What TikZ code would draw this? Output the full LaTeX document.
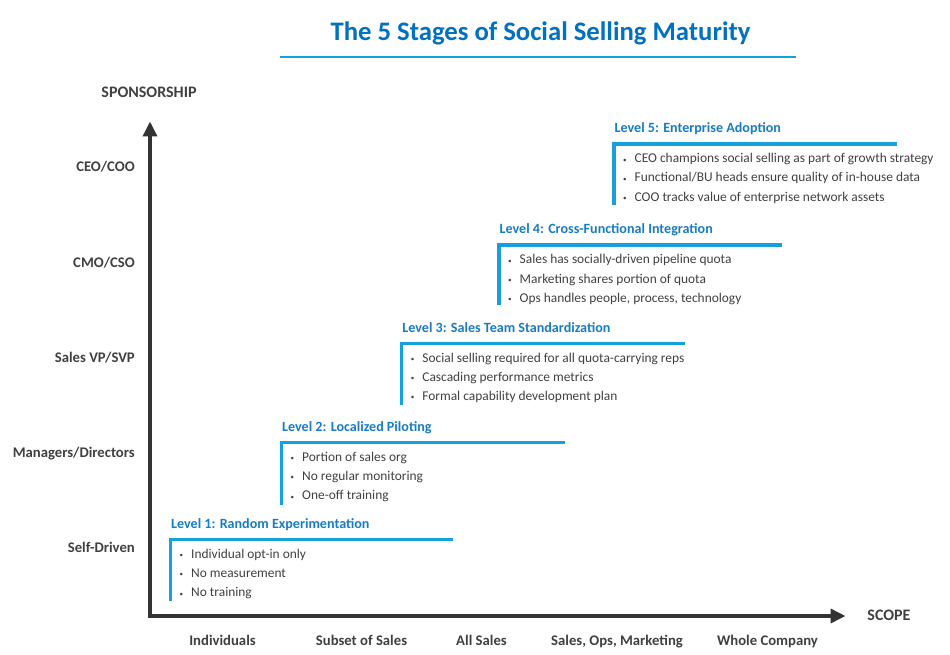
\documentclass[tikz,border=0pt]{standalone}
\usepackage{fontspec}
\setmainfont{Carlito}
\usepackage{xcolor}
\usepackage{tikz}
\usetikzlibrary{arrows.meta, calc}

\definecolor{titleblue}{RGB}{0,112,192}
\definecolor{levelblue}{RGB}{24,124,196}
\definecolor{lineblue}{RGB}{22,160,221}
\definecolor{axisgray}{RGB}{51,51,51}
\definecolor{textgray}{RGB}{64,64,64}

\newcommand{\blt}{\makebox[11.5pt][l]{\raisebox{0.6pt}{\fontsize{7}{7}\selectfont\textbullet}}}

\begin{document}
\begin{tikzpicture}[x=1pt, y=-1pt,
main title/.style = {inner sep=0pt, anchor=base, text=titleblue, font=\bfseries\fontsize{26.7}{32}\selectfont},
axis label/.style = {inner sep=0pt, text=textgray, font=\bfseries\fontsize{14.7}{17}\selectfont},
axis name/.style = {axis label, anchor=base, font=\bfseries\fontsize{16}{19}\selectfont},
level title/.style = {inner sep=0pt, anchor=base west, text=levelblue, font=\bfseries\fontsize{14.1}{17}\selectfont},
item/.style = {inner sep=0pt, anchor=base west, text=textgray, font=\fontsize{13.4}{16}\selectfont},
level line/.style = {lineblue, line width=3.5pt, line join=miter},
axis/.style = {axisgray, line width=3.5pt, line join=miter, {Triangle[width=14pt,length=15pt]}-{Triangle[width=14pt,length=15pt]}}
]

\useasboundingbox (0,0) rectangle (950,655);

% title
\node (title) at (540.5,40.7) [main title] {The 5 Stages of Social Selling Maturity};
\draw[lineblue, line width=1.8pt] (280,57) -- (796,57);

% axes
\coordinate (ytip) at (150,121.5);
\coordinate (origin) at (150,616);
\coordinate (xtip) at (845.5,616);
\draw[axis] (ytip) -- (origin) -- (xtip);

\node (sponsor) at (149,98) [axis name] {SPONSORSHIP};
\node (scope) at (889,620.5) [axis name] {SCOPE};

\node (ceo) at (135,172) [axis label, anchor=base east] {CEO/COO};
\node (cmo) at (135,267) [axis label, anchor=base east] {CMO/CSO};
\node (vp) at (135,362) [axis label, anchor=base east] {Sales VP/SVP};
\node (mgr) at (135,457) [axis label, anchor=base east] {Managers/Directors};
\node (self) at (135,552) [axis label, anchor=base east] {Self-Driven};

\node (indiv) at (222.5,645) [axis label, anchor=base] {Individuals};
\node (subset) at (361.5,645) [axis label, anchor=base] {Subset of Sales};
\node (allsales) at (481.5,645) [axis label, anchor=base] {All Sales};
\node (salesops) at (617,645) [axis label, anchor=base] {Sales, Ops, Marketing};
\node (whole) at (767.5,645) [axis label, anchor=base] {Whole Company};

% level 1
\draw[level line] (170.5,600.5) -- (170.5,539.5) -- (453,539.5);
\node (l1) at (171,528.2) [level title] {Level 1: Random Experimentation};
\node (l1a) at (179.5,558.3) [item] {\blt Individual opt-in only};
\node (l1b) at (179.5,577.5) [item] {\blt No measurement};
\node (l1c) at (179.5,596.7) [item] {\blt No training};

% level 2
\draw[level line] (281.5,505) -- (281.5,442.5) -- (565,442.5);
\node (l2) at (282,431.2) [level title] {Level 2: Localized Piloting};
\node (l2a) at (290.5,461.3) [item] {\blt Portion of sales org};
\node (l2b) at (290.5,480.5) [item] {\blt No regular monitoring};
\node (l2c) at (290.5,499.7) [item] {\blt One-off training};

% level 3
\draw[level line] (401.7,404.5) -- (401.7,343.3) -- (685,343.3);
\node (l3) at (402.2,332) [level title] {Level 3: Sales Team Standardization};
\node (l3a) at (410.7,362.1) [item] {\blt Social selling required for all quota-carrying reps};
\node (l3b) at (410.7,381.3) [item] {\blt Cascading performance metrics};
\node (l3c) at (410.7,400.5) [item] {\blt Formal capability development plan};

% level 4
\draw[level line] (499,305) -- (499,245) -- (781.5,245);
\node (l4) at (499.5,233.7) [level title] {Level 4: Cross-Functional Integration};
\node (l4a) at (508,263.8) [item] {\blt Sales has socially-driven pipeline quota};
\node (l4b) at (508,283) [item] {\blt Marketing shares portion of quota};
\node (l4c) at (508,302.2) [item] {\blt Ops handles people, process, technology};

% level 5
\draw[level line] (614,205) -- (614,144) -- (896.7,144);
\node (l5) at (614.5,132.7) [level title] {Level 5: Enterprise Adoption};
\node (l5a) at (623,162.8) [item] {\blt CEO champions social selling as part of growth strategy};
\node (l5b) at (623,182) [item] {\blt Functional/BU heads ensure quality of in-house data};
\node (l5c) at (623,201.2) [item] {\blt COO tracks value of enterprise network assets};
\end{tikzpicture}
\end{document}
